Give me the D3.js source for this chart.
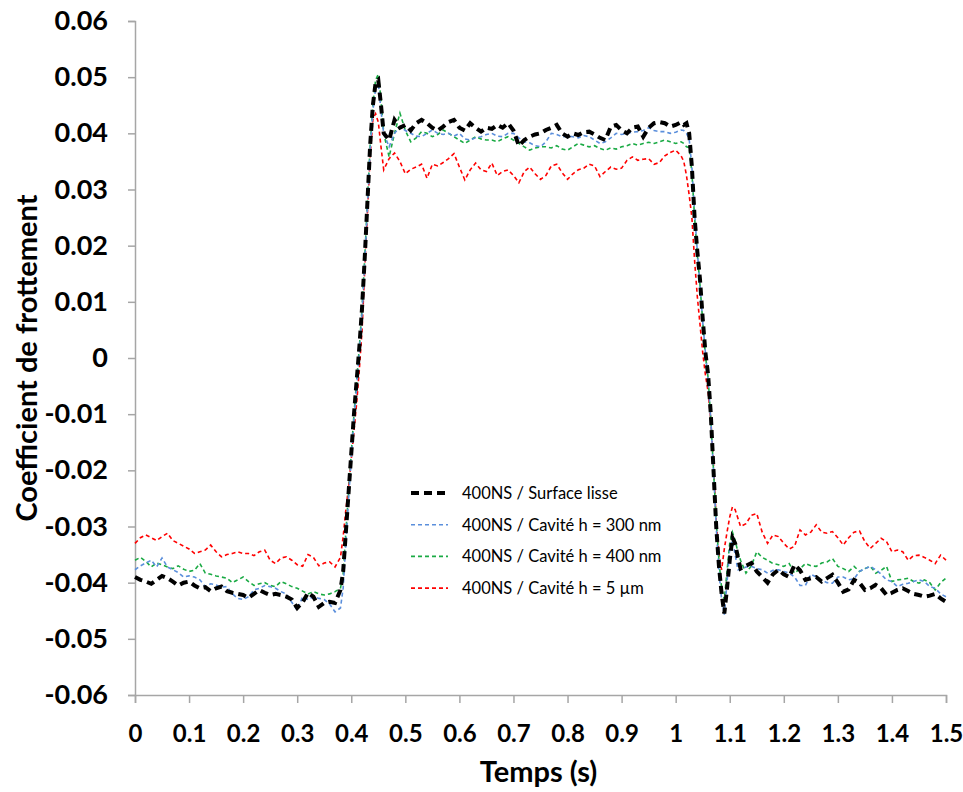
<!DOCTYPE html>
<html><head><meta charset="utf-8">
<script src="https://cdn.jsdelivr.net/npm/d3@7"></script>
<style>body{margin:0;background:#fff;}svg{display:block;}</style>
</head><body>
<svg id="chart" width="963" height="792"></svg>
<script>
const times = [0,0.01,0.02,0.03,0.04,0.05,0.06,0.07,0.08,0.09,
0.10,0.11,0.12,0.13,0.14,0.15,0.16,0.17,0.18,0.19,
0.20,0.21,0.22,0.23,0.24,0.25,0.26,0.27,0.28,0.29,
0.30,0.31,0.32,0.33,0.34,0.35,0.36,0.37,
0.38,0.385,0.39,0.395,0.40,0.405,0.41,0.415,0.42,0.425,0.43,0.435,0.44,0.445,0.45,0.455,0.46,
0.47,0.48,0.49,0.50,0.51,0.52,0.53,0.54,0.55,0.56,
0.57,0.58,0.59,0.60,0.61,0.62,0.63,0.64,0.65,0.66,
0.67,0.68,0.69,0.70,0.71,0.72,0.73,0.74,0.75,0.76,
0.77,0.78,0.79,0.80,0.81,0.82,0.83,0.84,0.85,0.86,
0.87,0.88,0.89,0.90,0.91,0.92,0.93,0.94,0.95,0.96,
0.97,0.98,0.99,1.00,
1.01,1.015,1.02,1.025,1.03,1.035,1.04,1.045,1.05,1.055,1.06,1.065,1.07,1.075,1.08,1.085,1.09,1.095,1.10,1.105,1.11,1.115,1.12,
1.13,1.14,1.15,1.16,1.17,1.18,1.19,1.20,1.21,1.22,
1.23,1.24,1.25,1.26,1.27,1.28,1.29,1.30,1.31,1.32,
1.33,1.34,1.35,1.36,1.37,1.38,1.39,1.40,1.41,1.42,
1.43,1.44,1.45,1.46,1.47,1.48,1.49,1.50];

const surfaceLisse = [-0.039,-0.0395,-0.0398,-0.0402,-0.0395,-0.0388,-0.0392,-0.0398,-0.0405,-0.040,
-0.0398,-0.0405,-0.041,-0.0408,-0.0415,-0.041,-0.0407,-0.0415,-0.0418,-0.042,
-0.0422,-0.0427,-0.042,-0.0413,-0.0418,-0.0422,-0.042,-0.0422,-0.0425,-0.043,
-0.0445,-0.0435,-0.0418,-0.0425,-0.0443,-0.0436,-0.0434,-0.0436,
-0.0413,-0.038,-0.031,-0.024,-0.017,-0.010,-0.004,0.002,0.009,0.018,0.028,0.038,0.045,0.049,0.0495,0.045,0.040,
0.0388,0.0424,0.041,0.0415,0.0405,0.0418,0.0424,0.0418,0.041,0.0405,
0.0412,0.042,0.0424,0.041,0.0405,0.0418,0.041,0.0403,0.041,0.0408,
0.0415,0.041,0.0418,0.0405,0.0378,0.0388,0.0394,0.0398,0.040,0.0406,
0.041,0.0415,0.040,0.0394,0.040,0.0397,0.0402,0.0403,0.0398,0.0392,
0.0388,0.0412,0.0415,0.0405,0.040,0.041,0.0412,0.0394,0.041,0.0418,
0.042,0.0418,0.0412,0.0415,
0.042,0.0415,0.0418,0.040,0.034,0.025,0.019,0.014,0.007,0.001,-0.003,-0.010,-0.020,-0.030,-0.037,-0.042,-0.0455,-0.041,-0.036,-0.032,-0.033,-0.0355,-0.0375,
-0.037,-0.0365,-0.038,-0.039,-0.040,-0.0385,-0.0377,-0.0385,-0.039,-0.0368,
-0.0378,-0.0395,-0.0392,-0.039,-0.0398,-0.0392,-0.0386,-0.040,-0.0416,-0.0412,
-0.0395,-0.040,-0.0413,-0.041,-0.0404,-0.041,-0.0422,-0.0418,-0.0413,-0.041,
-0.0415,-0.042,-0.0422,-0.0425,-0.0423,-0.042,-0.0428,-0.0434];

const cavite300 = [-0.0377,-0.037,-0.0365,-0.036,-0.0372,-0.0356,-0.0372,-0.0377,-0.0382,-0.039,
-0.0388,-0.039,-0.0395,-0.0407,-0.0402,-0.0404,-0.0408,-0.0407,-0.042,-0.0428,
-0.043,-0.0425,-0.0413,-0.041,-0.0405,-0.0407,-0.041,-0.0416,-0.042,-0.0435,
-0.0449,-0.0425,-0.043,-0.0425,-0.0428,-0.043,-0.0438,-0.0452,
-0.0445,-0.041,-0.033,-0.025,-0.018,-0.011,-0.005,0.001,0.008,0.017,0.027,0.037,0.044,0.048,0.049,0.044,0.040,
0.0376,0.040,0.0412,0.0405,0.040,0.0395,0.0394,0.040,0.0406,0.040,
0.0398,0.040,0.0395,0.040,0.039,0.0388,0.0392,0.0394,0.0398,0.040,
0.0395,0.0394,0.040,0.040,0.0392,0.0385,0.0383,0.0378,0.0376,0.0385,
0.040,0.0398,0.0394,0.0395,0.0394,0.0392,0.0396,0.0394,0.0388,0.0382,
0.0385,0.0392,0.040,0.0398,0.040,0.0402,0.0403,0.0405,0.041,0.0405,
0.0403,0.0403,0.040,0.0402,
0.0406,0.0405,0.040,0.039,0.034,0.026,0.019,0.013,0.0065,0.001,-0.004,-0.011,-0.020,-0.030,-0.038,-0.043,-0.0457,-0.040,-0.034,-0.0325,-0.035,-0.0377,-0.0377,
-0.0372,-0.0371,-0.0375,-0.0377,-0.0383,-0.0378,-0.0377,-0.038,-0.0383,-0.039,
-0.0405,-0.0405,-0.0385,-0.039,-0.0395,-0.040,-0.0401,-0.039,-0.039,-0.0395,
-0.0393,-0.038,-0.0375,-0.0371,-0.0377,-0.0385,-0.0395,-0.0398,-0.0407,-0.0403,
-0.0401,-0.0398,-0.0395,-0.0398,-0.0407,-0.041,-0.042,-0.0425];

const cavite400 = [-0.036,-0.0355,-0.0362,-0.0372,-0.0365,-0.0368,-0.0372,-0.0375,-0.037,-0.0376,
-0.038,-0.0378,-0.0366,-0.0383,-0.0385,-0.0388,-0.039,-0.0392,-0.040,-0.0395,
-0.039,-0.0398,-0.0405,-0.0402,-0.040,-0.0405,-0.0407,-0.0398,-0.0402,-0.0407,
-0.041,-0.0415,-0.042,-0.0416,-0.042,-0.0422,-0.042,-0.0416,
-0.041,-0.0385,-0.031,-0.024,-0.017,-0.010,-0.004,0.002,0.009,0.018,0.028,0.038,0.045,0.0495,0.0505,0.046,0.040,
0.0358,0.040,0.0436,0.0405,0.0385,0.0392,0.0403,0.040,0.0394,0.0398,
0.0406,0.040,0.0394,0.0388,0.0382,0.0388,0.0394,0.039,0.0388,0.0388,
0.0385,0.039,0.0394,0.0388,0.0382,0.0376,0.037,0.0374,0.0376,0.0376,
0.0374,0.0378,0.0372,0.037,0.0376,0.0382,0.0379,0.0376,0.0378,0.0373,
0.037,0.0374,0.0372,0.0376,0.0378,0.0382,0.0379,0.0382,0.0384,0.0382,
0.0385,0.0388,0.0385,0.0382,
0.0385,0.0382,0.0376,0.0375,0.033,0.025,0.0185,0.013,0.0065,0.0005,-0.0035,-0.011,-0.020,-0.029,-0.036,-0.041,-0.043,-0.038,-0.033,-0.031,-0.0325,-0.0345,-0.036,
-0.0383,-0.037,-0.0345,-0.0355,-0.036,-0.0366,-0.0368,-0.0371,-0.0366,-0.0383,
-0.0375,-0.0366,-0.037,-0.0371,-0.0365,-0.0363,-0.0357,-0.0371,-0.0375,-0.038,
-0.0371,-0.038,-0.0375,-0.0371,-0.0383,-0.0378,-0.0371,-0.0398,-0.0395,-0.0394,
-0.0392,-0.0398,-0.0401,-0.0395,-0.040,-0.0413,-0.040,-0.0392];

const cavite5um = [-0.033,-0.032,-0.0315,-0.032,-0.0325,-0.0318,-0.0312,-0.0325,-0.033,-0.0335,
-0.034,-0.0348,-0.0345,-0.0342,-0.0333,-0.0345,-0.0354,-0.035,-0.0348,-0.0345,
-0.0348,-0.0348,-0.0352,-0.0345,-0.0342,-0.036,-0.0366,-0.0356,-0.0354,-0.036,
-0.0368,-0.0371,-0.035,-0.0355,-0.037,-0.0365,-0.0363,-0.0372,
-0.0355,-0.0318,-0.027,-0.023,-0.018,-0.013,-0.008,-0.002,0.005,0.016,0.026,0.036,0.0425,0.0435,0.042,0.0376,0.0335,
0.0355,0.0365,0.035,0.0328,0.0336,0.034,0.0345,0.032,0.0345,0.0342,
0.0348,0.0355,0.0364,0.034,0.0317,0.0335,0.0347,0.0335,0.0332,0.0347,
0.0325,0.0332,0.0335,0.0325,0.0312,0.0332,0.034,0.0328,0.0318,0.0325,
0.0342,0.0345,0.033,0.0318,0.0328,0.0335,0.0338,0.0345,0.0342,0.0323,
0.0332,0.034,0.0336,0.0338,0.0352,0.0358,0.0352,0.0354,0.0355,0.0345,
0.0348,0.036,0.0366,0.037,
0.036,0.035,0.0325,0.029,0.025,0.0174,0.011,0.006,0.001,-0.003,-0.006,-0.011,-0.019,-0.029,-0.035,-0.0377,-0.034,-0.031,-0.0283,-0.0265,-0.027,-0.0285,-0.030,
-0.0295,-0.028,-0.0277,-0.031,-0.033,-0.0315,-0.0318,-0.033,-0.034,-0.0335,
-0.0306,-0.0315,-0.031,-0.0297,-0.031,-0.0312,-0.0309,-0.032,-0.0333,-0.032,
-0.031,-0.0308,-0.0327,-0.0339,-0.033,-0.0321,-0.0327,-0.0345,-0.0342,-0.0345,
-0.036,-0.0352,-0.0351,-0.0355,-0.036,-0.0366,-0.0351,-0.036];

const seriesNames = ["400NS / Surface lisse","400NS / Cavité h = 300 nm","400NS / Cavité h = 400 nm","400NS / Cavité h = 5 µm"];
const seriesValues = [surfaceLisse, cavite300, cavite400, cavite5um];
const seriesColors = ["#000000","#5b8fdc","#1aaa44","#ff0000"];
const seriesWidths = [4,1.6,1.6,1.6];
const seriesDash = ["8,5","4,3","4,3","4,3"];
const xTicks = [0,0.1,0.2,0.3,0.4,0.5,0.6,0.7,0.8,0.9,1,1.1,1.2,1.3,1.4,1.5];
const yTicks = [-0.06,-0.05,-0.04,-0.03,-0.02,-0.01,0,0.01,0.02,0.03,0.04,0.05,0.06];
const xTitle = "Temps (s)";
const yTitle = "Coefficient de frottement";

(function(){
const svg = d3.select("#chart");
const mL = 135, mR = 946, mT = 21, mB = 695;
const x = d3.scaleLinear().domain([0,1.5]).range([mL,mR]);
const y = d3.scaleLinear().domain([-0.06,0.06]).range([mB,mT]);
const font = "Lato, 'Open Sans', sans-serif";
const axisColor = "#a6a6a6";

const yAxis = svg.append("g").attr("transform",`translate(${mL},0)`)
  .call(d3.axisLeft(y).tickValues(yTicks).tickSize(7).tickPadding(20)
    .tickFormat(d => Math.abs(d) < 1e-9 ? "0" : d3.format(".2f")(d).replace("−","-")));
yAxis.select(".domain").attr("stroke",axisColor).attr("stroke-width",1.5);
yAxis.selectAll(".tick line").attr("stroke",axisColor).attr("stroke-width",1.5);
yAxis.selectAll(".tick text").attr("font-family",font).attr("font-weight","bold")
  .attr("font-size",27).attr("fill","#000");

const xAxis = svg.append("g").attr("transform",`translate(0,${mB})`)
  .call(d3.axisBottom(x).tickValues(xTicks).tickSize(8).tickPadding(22)
    .tickFormat(d => String(+d.toFixed(1))));
xAxis.select(".domain").attr("stroke",axisColor).attr("stroke-width",1.5);
xAxis.selectAll(".tick line").attr("stroke",axisColor).attr("stroke-width",1.5);
xAxis.selectAll(".tick text").attr("font-family",font).attr("font-weight","bold")
  .attr("font-size",24).attr("fill","#000");

svg.append("text").attr("x",(mL+mR)/2 - 2).attr("y",782).attr("text-anchor","middle")
  .attr("font-family",font).attr("font-weight","bold").attr("font-size",29).attr("fill","#000").text(xTitle);
svg.append("text").attr("transform",`translate(37,${(mT+mB)/2}) rotate(-90)`).attr("text-anchor","middle")
  .attr("font-family",font).attr("font-weight","bold").attr("font-size",29).attr("fill","#000").text(yTitle);

const line = d3.line().x((d,i)=>x(times[i])).y(d=>y(d));
[3,2,1,0].forEach(k => {
  svg.append("path").datum(seriesValues[k])
    .attr("fill","none").attr("stroke",seriesColors[k]).attr("stroke-width",seriesWidths[k])
    .attr("stroke-dasharray",seriesDash[k]).attr("d",line);
});

const lg = svg.append("g").attr("transform","translate(411,493)");
seriesNames.forEach((name,i) => {
  const g = lg.append("g").attr("transform",`translate(0,${i*31.7})`);
  g.append("line").attr("x1",0).attr("x2",37).attr("y1",0).attr("y2",0)
    .attr("stroke",seriesColors[i]).attr("stroke-width",seriesWidths[i]).attr("stroke-dasharray",seriesDash[i]);
  g.append("text").attr("x",51).attr("y",6).attr("font-family",font).attr("font-size",16.5)
    .attr("fill","#000").text(name);
});
})();
</script>
</body></html>
